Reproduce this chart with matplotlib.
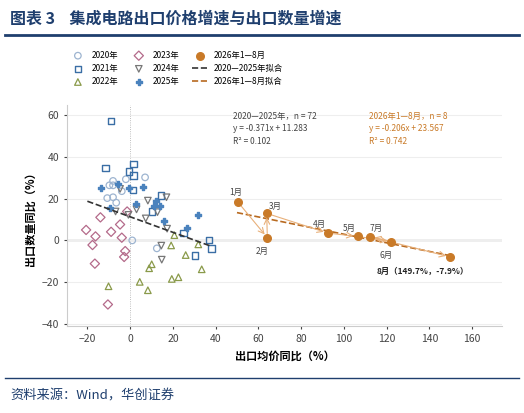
import matplotlib.pyplot as plt
import numpy as np

plt.rcParams['font.family'] = ['Noto Sans CJK SC', 'DejaVu Sans']

# 2020-2025 monthly points (export price yoy, export volume yoy)
x2020 = [-8, -9.7, -8, -2, 7, -10.7, -8, -6.5, -3.9, 1, 12.5]
y2020 = [28.4, 26.3, 26.3, 29.2, 30.1, 20.2, 20.6, 18, 23.5, 0, -3.8]
x2021 = [-9, -11.4, 1.5, -0.5, 1.5, 1.3, 14.5, 10.3, 25, 37, 38, 30.4]
y2021 = [57, 34.6, 36.5, 33, 31, 24, 21.4, 13.8, 3.5, 0.3, -3.8, -7.3]
x2022 = [20.7, 19.2, 31.9, 26, 10.1, 8.9, 33.5, 4.5, 19.5, 22.6, 8.3, -10.1]
y2022 = [2.5, -2.4, -1.9, -7, -11.4, -13.3, -13.8, -19.8, -18.4, -17.6, -23.8, -21.9]
x2023 = [-1.4, -13.9, -4.7, -20.6, -8.9, -16.2, -3.9, -17.6, -2.3, -2.8, -16.5, -10.4]
y2023 = [13.8, 11, 7.6, 5, 4.1, 1.9, 1.3, -2.2, -5.1, -7.9, -11.1, -30.6]
x2024 = [-4.7, -6.8, 3, 8.3, 17, 12.8, -0.8, 7.3, 17.3, 14.6, 14.8]
y2024 = [24.6, 13.8, 14.8, 19, 20.6, 13.5, 12.2, 10.5, 5.6, -2.5, -9.2]
x2025 = [-13.7, -5.6, -0.6, 5.9, -9.3, 2.6, 12.3, 11.4, 13.9, 16, 26.8, 31.6]
y2025 = [25, 27, 25, 25.5, 15.4, 17.4, 19, 16.5, 16.5, 9.5, 5.7, 12]

months = ['1月', '2月', '3月', '4月', '5月', '6月', '7月', '8月']
x2026 = [50.6, 64.2, 63.9, 92.5, 106.4, 122.3, 112.3, 149.7]
y2026 = [18.1, 1.3, 12.9, 3.5, 1.9, -0.6, 1.8, -7.9]

fit_old = (-0.371, 11.283)
fit_new = (-0.206, 23.567)

blue = '#3a6ea5'
orange = '#c97a28'

fig = plt.figure(figsize=(5.24, 4.13), dpi=100)
ax = fig.add_axes([0.128, 0.21, 0.83, 0.535])

ms = 22
ax.scatter(x2020, y2020, marker='o', s=ms, facecolors='none', edgecolors='#9db4d0', lw=0.9, label='2020年')
ax.scatter(x2021, y2021, marker='s', s=ms, facecolors='none', edgecolors=blue, lw=1.0, label='2021年')
ax.scatter(x2022, y2022, marker='^', s=ms, facecolors='none', edgecolors='#8a9a4a', lw=0.9, label='2022年')
ax.scatter(x2023, y2023, marker='D', s=ms, facecolors='none', edgecolors='#b46a8a', lw=0.9, label='2023年')
ax.scatter(x2024, y2024, marker='v', s=ms, facecolors='none', edgecolors='#777777', lw=0.9, label='2024年')
ax.scatter(x2025, y2025, marker='P', s=ms, color='#4a82bd', label='2025年')
ax.scatter(x2026, y2026, marker='o', s=30, color=orange, zorder=5, label='2026年1—8月')

xa = np.array([-20, 38])
ax.plot(xa, fit_old[0] * xa + fit_old[1], ls='--', color='#333333', lw=1.2, label='2020—2025年拟合')
xb = np.array([50, 150])
ax.plot(xb, fit_new[0] * xb + fit_new[1], ls='--', color='#b86a20', lw=1.2, label='2026年1—8月拟合')

for i in range(len(x2026) - 1):
    ax.annotate('', xy=(x2026[i + 1], y2026[i + 1]), xytext=(x2026[i], y2026[i]),
                arrowprops=dict(arrowstyle='->', color='#e8b07a', lw=0.8, shrinkA=3, shrinkB=3))

offsets = [(-2, 7), (-4, -10), (6, 5), (-6, 6), (-6, 6), (-4, -10), (4, 6)]
for i, (dx, dy) in enumerate(offsets):
    ax.annotate(months[i], (x2026[i], y2026[i]), xytext=(dx, dy), textcoords='offset points',
                fontsize=6, color='#444444', ha='center', va='center')
ax.annotate('8月（149.7%，-7.9%）', (x2026[7], y2026[7]), xytext=(-20, -10), textcoords='offset points',
            fontsize=6, color='#222222', ha='center', va='center', fontweight='bold')

ax.text(48, 61.5, '2020—2025年，n = 72\ny = -0.371x + 11.283\nR² = 0.102', fontsize=6,
        color='#444444', va='top', linespacing=1.5)
ax.text(112, 61.5, '2026年1—8月，n = 8\ny = -0.206x + 23.567\nR² = 0.742', fontsize=6,
        color=orange, va='top', linespacing=1.5)

ax.axhline(0, color='#aaaaaa', lw=1, zorder=0)
ax.axvline(0, color='#aaaaaa', lw=0.6, ls=':', zorder=0)
ax.set_xlim(-29.5, 174)
ax.set_ylim(-41, 64.5)
ax.set_xticks(range(-20, 161, 20))
ax.set_yticks(range(-40, 61, 20))
ax.grid(axis='y', color='#eeeeee', lw=0.8)
ax.set_axisbelow(True)
for s in ['top', 'right']:
    ax.spines[s].set_visible(False)
for s in ['left', 'bottom']:
    ax.spines[s].set_color('#cccccc')
ax.tick_params(labelsize=7.5, colors='#444444', length=2)
ax.set_xlabel('出口均价同比（%）', fontsize=8, fontweight='bold')
ax.set_ylabel('出口数量同比（%）', fontsize=8, fontweight='bold')

h, l = ax.get_legend_handles_labels()
wanted = ['2020年', '2021年', '2022年', '2023年', '2024年', '2025年',
          '2026年1—8月', '2020—2025年拟合', '2026年1—8月拟合']
hh = [h[l.index(w)] for w in wanted]
fig.legend(hh, wanted, ncol=3, loc='upper left', bbox_to_anchor=(0.12, 0.895), frameon=False,
           fontsize=6, handlelength=1.8, columnspacing=1.5, labelspacing=0.5)

fig.text(0.02, 0.955, '图表 3    集成电路出口价格增速与出口数量增速', fontsize=11.5, fontweight='bold',
         color='#1f3f6e', va='center')
fig.add_artist(plt.Line2D([0.01, 0.99], [0.915, 0.915], color='#1f3f6e', lw=2))
fig.add_artist(plt.Line2D([0.01, 0.99], [0.085, 0.085], color='#1f3f6e', lw=1))
fig.text(0.02, 0.04, '资料来源：Wind，华创证券', fontsize=9.5, style='italic', color='#1f3f6e', va='center')

fig.savefig('out.png', dpi=100)
